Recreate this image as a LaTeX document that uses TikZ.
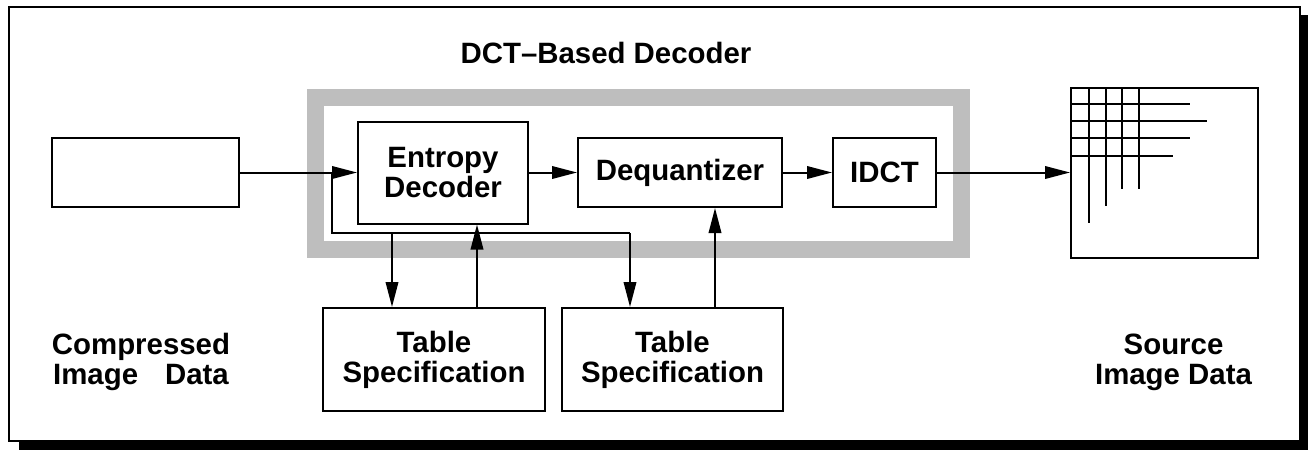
\documentclass[tikz,border=0pt]{standalone}
\usepackage{fontspec}
\setmainfont{Liberation Sans}
\usetikzlibrary{arrows.meta,calc}
\definecolor{bandgray}{RGB}{190,190,190}
\begin{document}
\begin{tikzpicture}[x=1pt,y=-1pt,
  font=\fontsize{29.4}{30}\selectfont\bfseries,
  box/.style={draw, line width=2pt, fill=white, inner sep=0pt, align=center},
  lbl/.style={inner sep=0pt, align=center},
  ln/.style={line width=2pt},
  arr/.style={line width=2pt, -{Triangle[length=25pt,width=12.5pt]}}]
\useasboundingbox (0,0) rectangle (1308,450);
% frame with shadow
\fill (19,15) rectangle (1308,450);
\draw[line width=2.4pt, fill=white] (9,7) rectangle (1300,441);
% decoder band
\draw[bandgray, line width=17pt] (315.5,97) rectangle (961.5,249);
\node[lbl] (title) at (606,53) {DCT–Based Decoder};
% blocks
\node[box, minimum width=187pt, minimum height=69pt] (comp) at (145.5,172.5) {};
\node[box, minimum width=170pt, minimum height=102pt] (ent) at (443,172.5) {Entropy\\Decoder};
\node[box, minimum width=204pt, minimum height=69pt] (deq) at (680,172.5) {Dequantizer};
\node[box, minimum width=103pt, minimum height=69pt] (idct) at (884.5,172.5) {IDCT};
\node[box, minimum width=187pt, minimum height=170pt] (grid) at (1164.5,173) {};
\node[box, minimum width=222pt, minimum height=103pt] (t1) at (434,359.5) {Table\\Specification};
\node[box, minimum width=221pt, minimum height=103pt] (t2) at (672.5,359.5) {Table\\Specification};
% labels
\node[lbl] (clbl) at (141,362) {Compressed\\Image\hspace{27pt}Data};
\node[lbl] (slbl) at (1173.5,362) {Source\\Image Data};
% main flow
\draw[arr] (comp) -- (ent);
\draw[arr] (ent) -- (deq);
\draw[arr] (deq) -- (idct);
\draw[arr] (idct.east) -- (idct.east -| grid.west);
% table paths
\coordinate (j1) at (332,172.5);
\coordinate (b3) at (392,233);
\coordinate (b2) at (630,233);
\coordinate (u1) at (477,0);
\coordinate (u2) at (715,0);
\draw[ln] (j1) |- (b2);
\draw[arr] (b2) -- (b2 |- t2.north);
\draw[arr] (b3) -- (b3 |- t1.north);
\draw[arr] (u1 |- t1.north) -- (u1 |- ent.south);
\draw[arr] (u2 |- t2.north) -- (u2 |- deq.south);
% grid picture
\foreach \x/\yb in {1089/223,1106/206,1122/189,1139/189}
  \draw[ln] (\x,88) -- (\x,\yb);
\foreach \y/\xr in {104/1190,121/1207,138/1190,156/1173}
  \draw[ln] (1071,\y) -- (\xr,\y);
\end{tikzpicture}
\end{document}
